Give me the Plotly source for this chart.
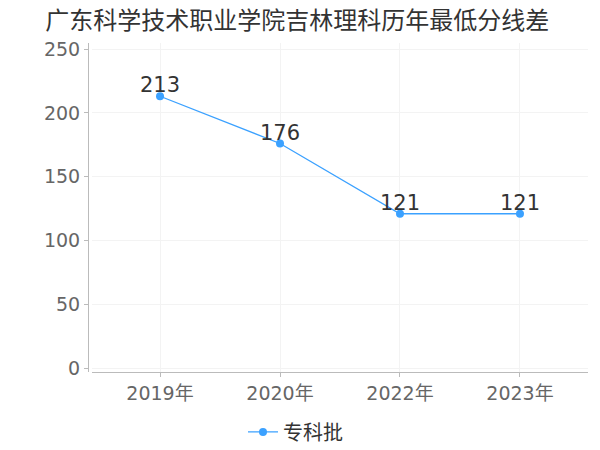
import plotly.graph_objects as go

years = ["2019年", "2020年", "2022年", "2023年"]
values = [213, 176, 121, 121]
series_name = "专科批"
title = "广东科学技术职业学院吉林理科历年最低分线差"
y_ticks = [0, 50, 100, 150, 200, 250]

font_family = "DejaVu Sans, Noto Sans CJK SC, sans-serif"
xs = list(range(len(years)))

fig = go.Figure()
fig.add_trace(go.Scatter(
    x=xs, y=values, name=series_name,
    mode="lines+markers",
    line=dict(color="#3ba1ff", width=1.3),
    marker=dict(color="#3ba1ff", size=8),
))
for xv, v in zip(xs, values):
    fig.add_annotation(x=xv, y=v, text=str(v), showarrow=False,
                       yanchor="middle", xanchor="center", yshift=11,
                       font=dict(size=21, color="#333333", family=font_family))

fig.update_layout(
    width=600, height=450,
    margin=dict(l=80, r=20, t=35, b=86, autoexpand=False),
    paper_bgcolor="white", plot_bgcolor="white",
    font=dict(family=font_family, color="#666666"),
    title=dict(text=title, x=0.062, xanchor="left", y=0.973, yanchor="middle",
               font=dict(size=24, color="#333333", family=font_family)),
    showlegend=True,
    legend=dict(orientation="h", x=0.415, xanchor="center", y=-0.182, yanchor="middle",
                font=dict(size=20, color="#333333", family=font_family),
                itemwidth=30),
    xaxis=dict(
        domain=[0.008, 1],
        range=[-0.567, 3.567],
        tickmode="array", tickvals=xs, ticktext=years,
        tickfont=dict(size=19, color="#666666"),
        showline=True, linecolor="#bbbbbb", linewidth=1,
        ticks="outside", ticklen=4, tickcolor="#bbbbbb",
        showgrid=True, gridcolor="#f3f3f3", zeroline=False,
        automargin=False,
    ),
    yaxis=dict(
        range=[-2.9, 254.7],
        tickvals=y_ticks,
        tickfont=dict(size=19, color="#666666"),
        showline=True, linecolor="#bbbbbb", linewidth=1,
        ticks="outside", ticklen=4, tickcolor="#bbbbbb",
        showgrid=True, gridcolor="#f3f3f3", zeroline=False,
        anchor="free", position=0, automargin=False,
    ),
)

fig.write_html("out.html")
